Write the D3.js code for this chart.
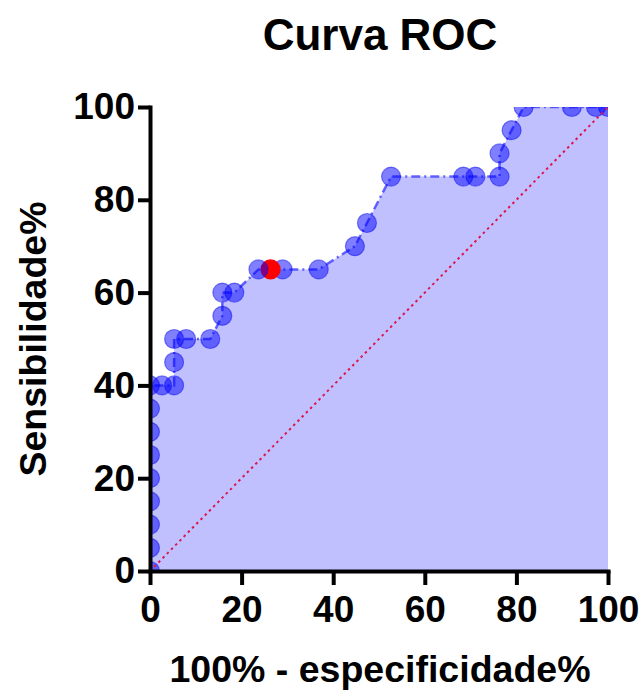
<!DOCTYPE html>
<html>
<head>
<meta charset="utf-8">
<script src="https://cdn.jsdelivr.net/npm/d3@7"></script>
<style>
  body { margin: 0; background: #fff; }
  svg { display: block; font-family: "Liberation Sans", Arial, sans-serif; font-weight: bold; }
</style>
</head>
<body>
<svg width="642" height="698"></svg>
<script>
// 100% - especificidade% (x) and sensibilidade% (y)
const fpr = [0, 0, 0, 0, 0, 0, 0, 0, 0, 2.63, 5.26, 5.26, 5.26, 7.89, 13.16, 15.79, 15.79, 18.42,
  23.68, 26.32, 28.95, 36.84, 44.74, 47.37, 52.63, 68.42, 71.05, 76.32, 76.32, 78.95, 81.58, 92.11, 97.37, 100];
const sens = [0, 5, 10, 15, 20, 25, 30, 35, 40, 40, 40, 45, 50, 50, 50, 55, 60, 60,
  65, 65, 65, 65, 70, 75, 85, 85, 85, 85, 90, 95, 100, 100, 100, 100];
const cutoffIndex = 19; // red point
const xTicks = [0, 20, 40, 60, 80, 100];
const yTicks = [0, 20, 40, 60, 80, 100];

const points = fpr.map((v, i) => ({ x: v, y: sens[i], cut: i === cutoffIndex }));

const svg = d3.select("svg");
const pLeft = 150, pRight = 608, pTop = 107, pBottom = 571;

const x = d3.scaleLinear().domain([0, 100]).range([pLeft, pRight]);
const y = d3.scaleLinear().domain([0, 100]).range([pBottom, pTop]);

svg.append("clipPath").attr("id", "plot")
  .append("rect").attr("x", pLeft).attr("y", pTop)
  .attr("width", pRight - pLeft).attr("height", pBottom - pTop);

const g = svg.append("g").attr("clip-path", "url(#plot)");

// area under the curve
const area = d3.area().x(d => x(d.x)).y0(y(0)).y1(d => y(d.y));
g.append("path").datum(points)
  .attr("d", area)
  .attr("fill", "#c0c0ff");

// roc line
g.append("path").datum(points)
  .attr("d", d3.line().x(d => x(d.x)).y(d => y(d.y)))
  .attr("fill", "none")
  .attr("stroke", "rgba(40,40,255,0.7)")
  .attr("stroke-width", 2.5)
  .attr("stroke-dasharray", "9,4,2,4");

// points, right to left so overlaps look like the original
g.selectAll(".pt")
  .data(points.slice().reverse())
  .join("circle")
  .attr("class", "pt")
  .attr("cx", d => x(d.x))
  .attr("cy", d => y(d.y))
  .attr("r", 9.5)
  .attr("fill", d => d.cut ? "#ff0000" : "rgba(0,0,255,0.5)")
  .attr("stroke", d => d.cut ? "#ff0000" : "rgba(0,0,230,0.45)")
  .attr("stroke-width", 1.2);

// reference diagonal
g.append("line")
  .attr("x1", x(0)).attr("y1", y(0))
  .attr("x2", x(100)).attr("y2", y(100))
  .attr("stroke", "#dc1450")
  .attr("stroke-width", 2)
  .attr("stroke-dasharray", "2.5,3.5");

// axes
const xAxis = svg.append("g")
  .attr("transform", `translate(0,${pBottom})`)
  .call(d3.axisBottom(x).tickValues(xTicks).tickSize(14).tickPadding(11).tickSizeOuter(0));
const yAxis = svg.append("g")
  .attr("transform", `translate(${pLeft},0)`)
  .call(d3.axisLeft(y).tickValues(yTicks).tickSize(12).tickPadding(3).tickSizeOuter(0));

[xAxis, yAxis].forEach(a => {
  a.select(".domain").attr("stroke", "#000").attr("stroke-width", 4).attr("stroke-linecap", "square");
  a.selectAll(".tick line").attr("stroke", "#000").attr("stroke-width", 4);
  a.selectAll(".tick text").attr("fill", "#000")
    .style("font-size", "37px").style("font-weight", "bold")
    .style("font-family", "'Liberation Sans', Arial, sans-serif");
});

// titles
svg.append("text")
  .attr("x", 380).attr("y", 50)
  .attr("text-anchor", "middle")
  .style("font-size", "44px")
  .text("Curva ROC");

svg.append("text")
  .attr("x", 380).attr("y", 682)
  .attr("text-anchor", "middle")
  .style("font-size", "37.5px")
  .text("100% - especificidade%");

svg.append("text")
  .attr("transform", `translate(46,339) rotate(-90)`)
  .attr("text-anchor", "middle")
  .style("font-size", "37.5px")
  .text("Sensibilidade%");
</script>
</body>
</html>
